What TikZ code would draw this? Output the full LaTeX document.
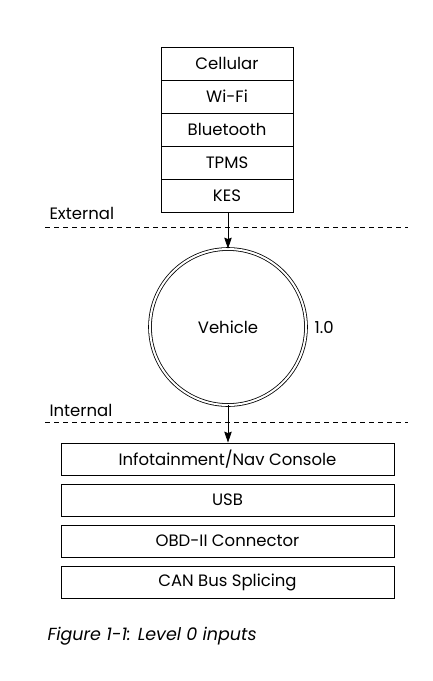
\documentclass[tikz,border=0pt]{standalone}
\usepackage{fontspec}
\setmainfont{Poppins}
\usepackage{tikz}
\usetikzlibrary{arrows.meta}

\begin{document}
\begin{tikzpicture}[x=1pt,y=1pt,font=\fontsize{16.5}{19}\selectfont]
        \useasboundingbox (0,0) rectangle (432,-681);

        \begin{scope}[every node/.style={draw,thick,minimum width=132pt,minimum height=33pt,inner sep=0pt}]
            \node (cell) at (227,-63.5) {Cellular};
            \node (wifi) at (227,-96.5) {Wi-Fi};
            \node (bt)   at (227,-129.5) {Bluetooth};
            \node (tpms) at (227,-162.5) {TPMS};
            \node (kes)  at (227,-195.5) {KES};
        \end{scope}

        \node (veh) [draw,circle,thick,double,double distance=2pt,minimum size=156pt] at (228,-327) {Vehicle};
        \node (ver) [anchor=west] at (311,-327) {1.0};

        \node (ext) [anchor=west] at (46,-213) {External};
        \node (int) [anchor=west] at (46,-410) {Internal};
        \coordinate (extL) at (45,-227);
        \coordinate (extR) at (408,-227);
        \coordinate (intL) at (45,-422);
        \coordinate (intR) at (408,-422);
        \draw [dashed,thick,dash pattern=on 5pt off 4pt] (extL) -- (extR);
        \draw [dashed,thick,dash pattern=on 5pt off 4pt] (intL) -- (intR);

        \begin{scope}[every node/.style={draw,thick,minimum width=333pt,minimum height=32pt,inner sep=0pt}]
            \node (info) at (227.5,-459) {Infotainment/Nav Console};
            \node (usb)  at (227.5,-500) {USB};
            \node (obd)  at (227.5,-541) {OBD-II Connector};
            \node (can)  at (227.5,-582) {CAN Bus Splicing};
        \end{scope}

        \begin{scope}[>={Stealth[black,length=11pt,width=7.5pt,inset=1.5pt]}]
            \draw [->,thick] (kes.south -| veh.north) -- (veh.north);
            \draw [->,thick] (veh.south) -- (veh.south |- info.north);
        \end{scope}

        \node (cap) [anchor=west,font=\fontsize{17.5}{20}\selectfont\itshape] at (44,-636) {Figure 1-1: Level 0 inputs};
    \end{tikzpicture}
\end{document}
